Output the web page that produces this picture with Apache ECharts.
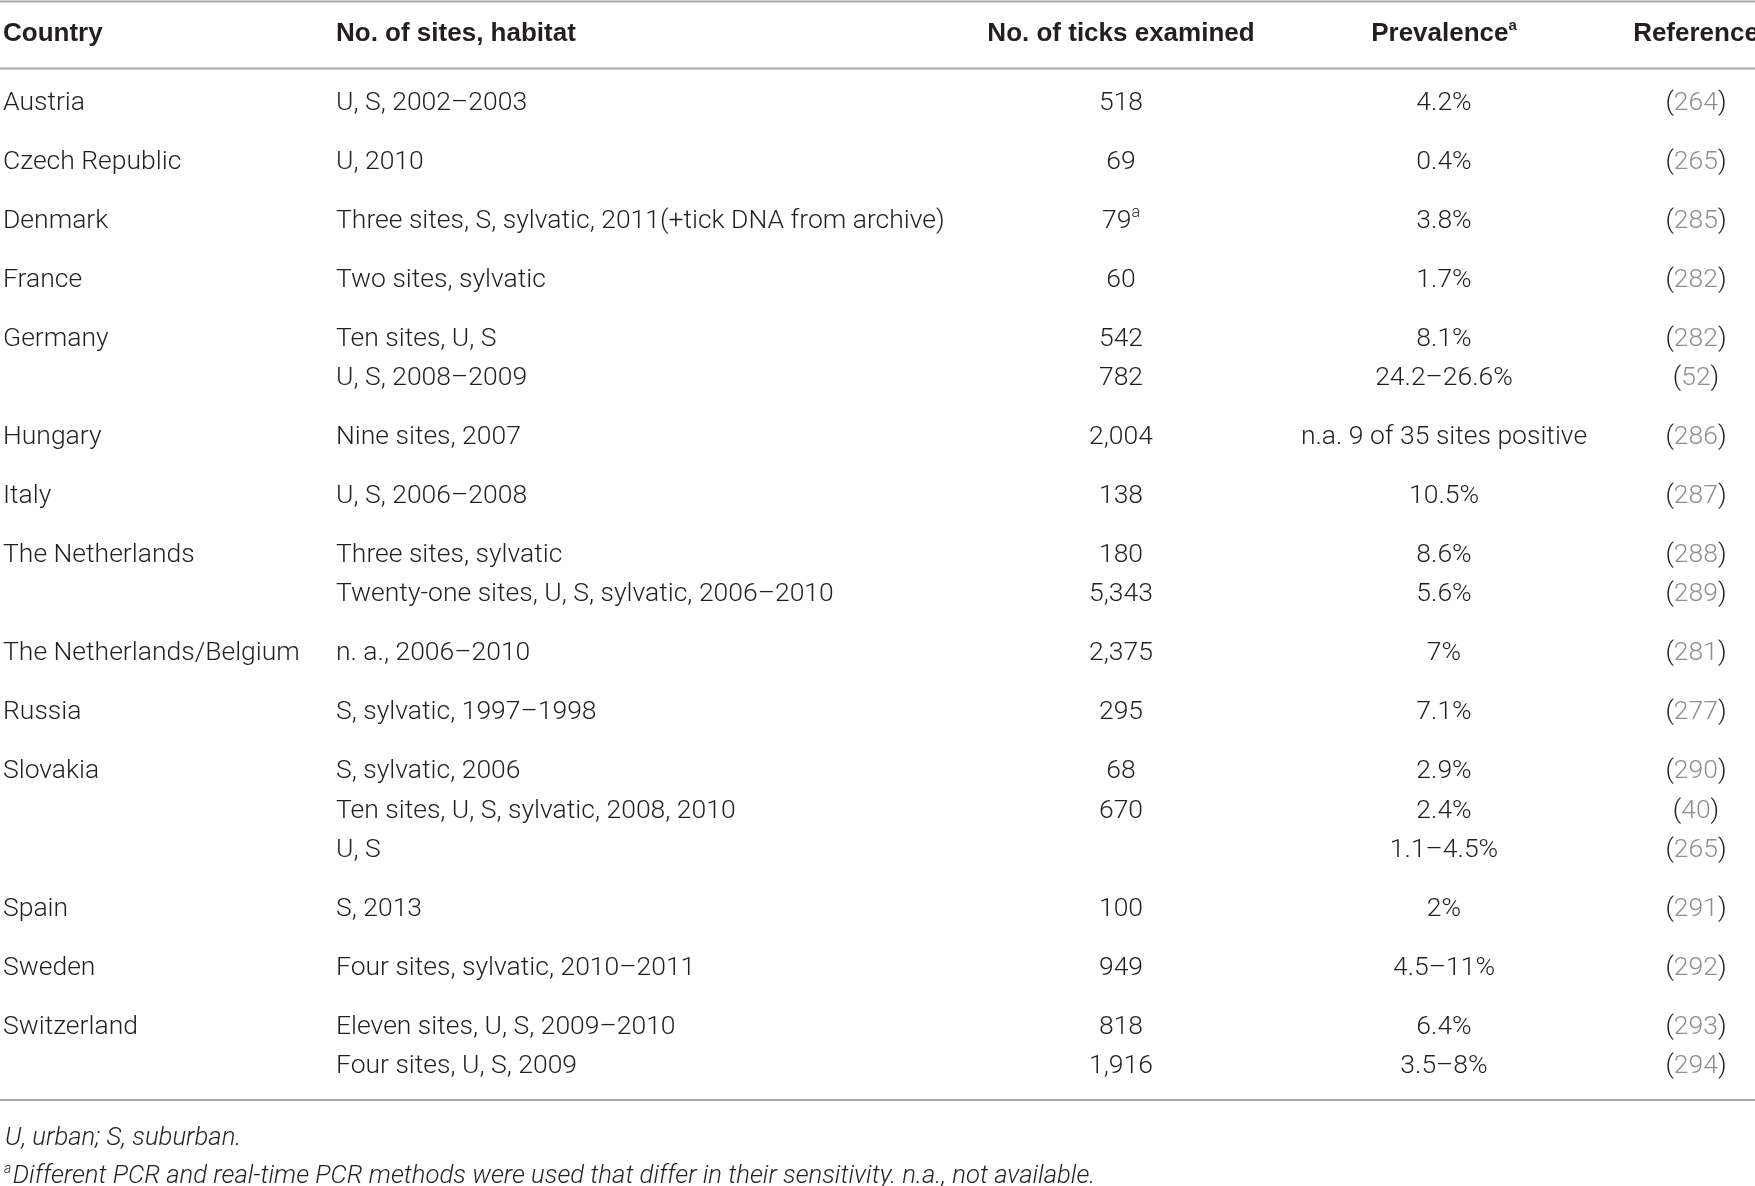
<!DOCTYPE html>
<html>
<head>
<meta charset="utf-8">
<script src="https://cdn.jsdelivr.net/npm/echarts@6/dist/echarts.min.js"></script>
<style>
  html, body { margin: 0; padding: 0; background: #fff; }
  #table { width: 1755px; height: 1186px; }
</style>
</head>
<body>
<div id="table"></div>
<script>
// Tick prevalence table, one entry per printed line
const countries = ['Austria', 'Czech Republic', 'Denmark', 'France', 'Germany', '', 'Hungary', 'Italy',
    'The Netherlands', '', 'The Netherlands/Belgium', 'Russia', 'Slovakia', '', '', 'Spain', 'Sweden',
    'Switzerland', ''];
const habitats = ['U, S, 2002–2003', 'U, 2010', 'Three sites, S, sylvatic, 2011(+tick DNA from archive)',
    'Two sites, sylvatic', 'Ten sites, U, S', 'U, S, 2008–2009', 'Nine sites, 2007', 'U, S, 2006–2008',
    'Three sites, sylvatic', 'Twenty-one sites, U, S, sylvatic, 2006–2010', 'n. a., 2006–2010',
    'S, sylvatic, 1997–1998', 'S, sylvatic, 2006', 'Ten sites, U, S, sylvatic, 2008, 2010', 'U, S',
    'S, 2013', 'Four sites, sylvatic, 2010–2011', 'Eleven sites, U, S, 2009–2010', 'Four sites, U, S, 2009'];
const ticksExamined = ['518', '69', '79', '60', '542', '782', '2,004', '138', '180', '5,343', '2,375',
    '295', '68', '670', '', '100', '949', '818', '1,916'];
const ticksFootnoteRows = [2];   // "79" carries footnote a
const prevalence = ['4.2%', '0.4%', '3.8%', '1.7%', '8.1%', '24.2–26.6%', 'n.a. 9 of 35 sites positive',
    '10.5%', '8.6%', '5.6%', '7%', '7.1%', '2.9%', '2.4%', '1.1–4.5%', '2%', '4.5–11%', '6.4%', '3.5–8%'];
const references = ['264', '265', '285', '282', '282', '52', '286', '287', '288', '289', '281', '277',
    '290', '40', '265', '291', '292', '293', '294'];

const headers = ['Country', 'No. of sites, habitat', 'No. of ticks examined', 'Prevalence', 'Reference'];
const footnotes = ['U, urban; S, suburban.',
    'Different PCR and real-time PCR methods were used that differ in their sensitivity. n.a., not available.'];

// layout
const INK = '#231f20';
const REF_GREY = '#8f8f8f';
const RULE = '#a8a8a8';
const BODY_FONT = '300 26.5px Roboto, "Liberation Sans", sans-serif';
const SUP_FONT = '300 16px Roboto, "Liberation Sans", sans-serif';
const HEAD_FONT = 'bold 26px "Liberation Sans", Arial, sans-serif';
const NOTE_FONT = 'italic 300 25.7px Roboto, "Liberation Sans", sans-serif';
const COL_X = [3, 336, 1121, 1444, 1696];
const COL_ALIGN = ['left', 'left', 'center', 'center', 'center'];
const TEXT_DY = 3.5;   // middle of the text box sits a bit above the cap middle

// new country block = 1.5 line steps, continuation line = 1 step
const rowPos = [];
countries.forEach((c, i) => {
    if (i === 0) rowPos.push(0);
    else rowPos.push(rowPos[i - 1] + (c ? 1.5 : 1));
});

const chart = echarts.init(document.getElementById('table'), null, { renderer: 'canvas' });

function cellText(x, y, text, align, extra) {
    return {
        type: 'text',
        x: x,
        y: y + TEXT_DY,
        style: Object.assign({
            text: text,
            fill: INK,
            font: BODY_FONT,
            align: align,
            verticalAlign: 'middle'
        }, extra || {})
    };
}

function renderRow(params, api) {
    const i = api.value(2);
    const y = api.coord([0, api.value(1)])[1];
    const kids = [];
    kids.push(cellText(COL_X[0], y, countries[i], COL_ALIGN[0]));
    kids.push(cellText(COL_X[1], y, habitats[i], COL_ALIGN[1]));
    if (ticksFootnoteRows.indexOf(i) >= 0) {
        kids.push(cellText(COL_X[2], y, '{n|' + ticksExamined[i] + '}{s|a}', COL_ALIGN[2], {
            rich: {
                n: { fill: INK, font: BODY_FONT, lineHeight: 32 },
                s: { fill: INK, font: SUP_FONT, lineHeight: 18, verticalAlign: 'top' }
            }
        }));
    } else {
        kids.push(cellText(COL_X[2], y, ticksExamined[i], COL_ALIGN[2]));
    }
    kids.push(cellText(COL_X[3], y, prevalence[i], COL_ALIGN[3]));
    kids.push(cellText(COL_X[4], y, '{p|(}{n|' + references[i] + '}{p|)}', COL_ALIGN[4], {
        rich: {
            p: { fill: INK, font: BODY_FONT },
            n: { fill: REF_GREY, font: BODY_FONT }
        }
    }));
    return { type: 'group', children: kids };
}

const headerEls = headers.map((h, k) => {
    const isPrev = k === 3;
    return {
        type: 'text',
        x: COL_X[k],
        y: 34,
        style: {
            text: isPrev ? '{h|' + h + '}{s|a}' : h,
            fill: INK,
            font: HEAD_FONT,
            align: COL_ALIGN[k],
            verticalAlign: 'middle',
            rich: isPrev ? {
                h: { fill: INK, font: HEAD_FONT, lineHeight: 31 },
                s: { fill: INK, font: 'bold 15px "Liberation Sans", Arial, sans-serif', lineHeight: 17, verticalAlign: 'top' }
            } : undefined
        }
    };
});

function rule(y) {
    return { type: 'line', shape: { x1: 0, y1: y, x2: 1755, y2: y }, style: { stroke: RULE, lineWidth: 2 } };
}

const option = {
    backgroundColor: '#ffffff',
    animation: false,
    grid: { left: 0, right: 0, top: 0, bottom: 0 },
    xAxis: { type: 'value', min: 0, max: 1, show: false },
    yAxis: { type: 'value', inverse: true, min: -2.532, max: 27.623, show: false },
    graphic: [
        rule(1.5),
        rule(68.5),
        rule(1100),
        ...headerEls,
        {
            type: 'text', x: 5, y: 1138.5,
            style: { text: footnotes[0], fill: INK, font: NOTE_FONT, verticalAlign: 'middle' }
        },
        {
            type: 'text', x: 4, y: 1176.5,
            style: {
                text: '{s|a} {t|' + footnotes[1] + '}',
                verticalAlign: 'middle',
                font: 'italic 300 6px Roboto, sans-serif',
                rich: {
                    s: { fill: INK, font: 'italic 300 14px Roboto, "Liberation Sans", sans-serif', lineHeight: 15, verticalAlign: 'top' },
                    t: { fill: INK, font: NOTE_FONT, lineHeight: 29 }
                }
            }
        }
    ],
    series: [{
        type: 'custom',
        renderItem: renderRow,
        data: rowPos.map((p, i) => [0, p, i]),
        encode: { x: 0, y: 1 },
        clip: false
    }]
};

chart.setOption(option);
</script>
</body>
</html>
